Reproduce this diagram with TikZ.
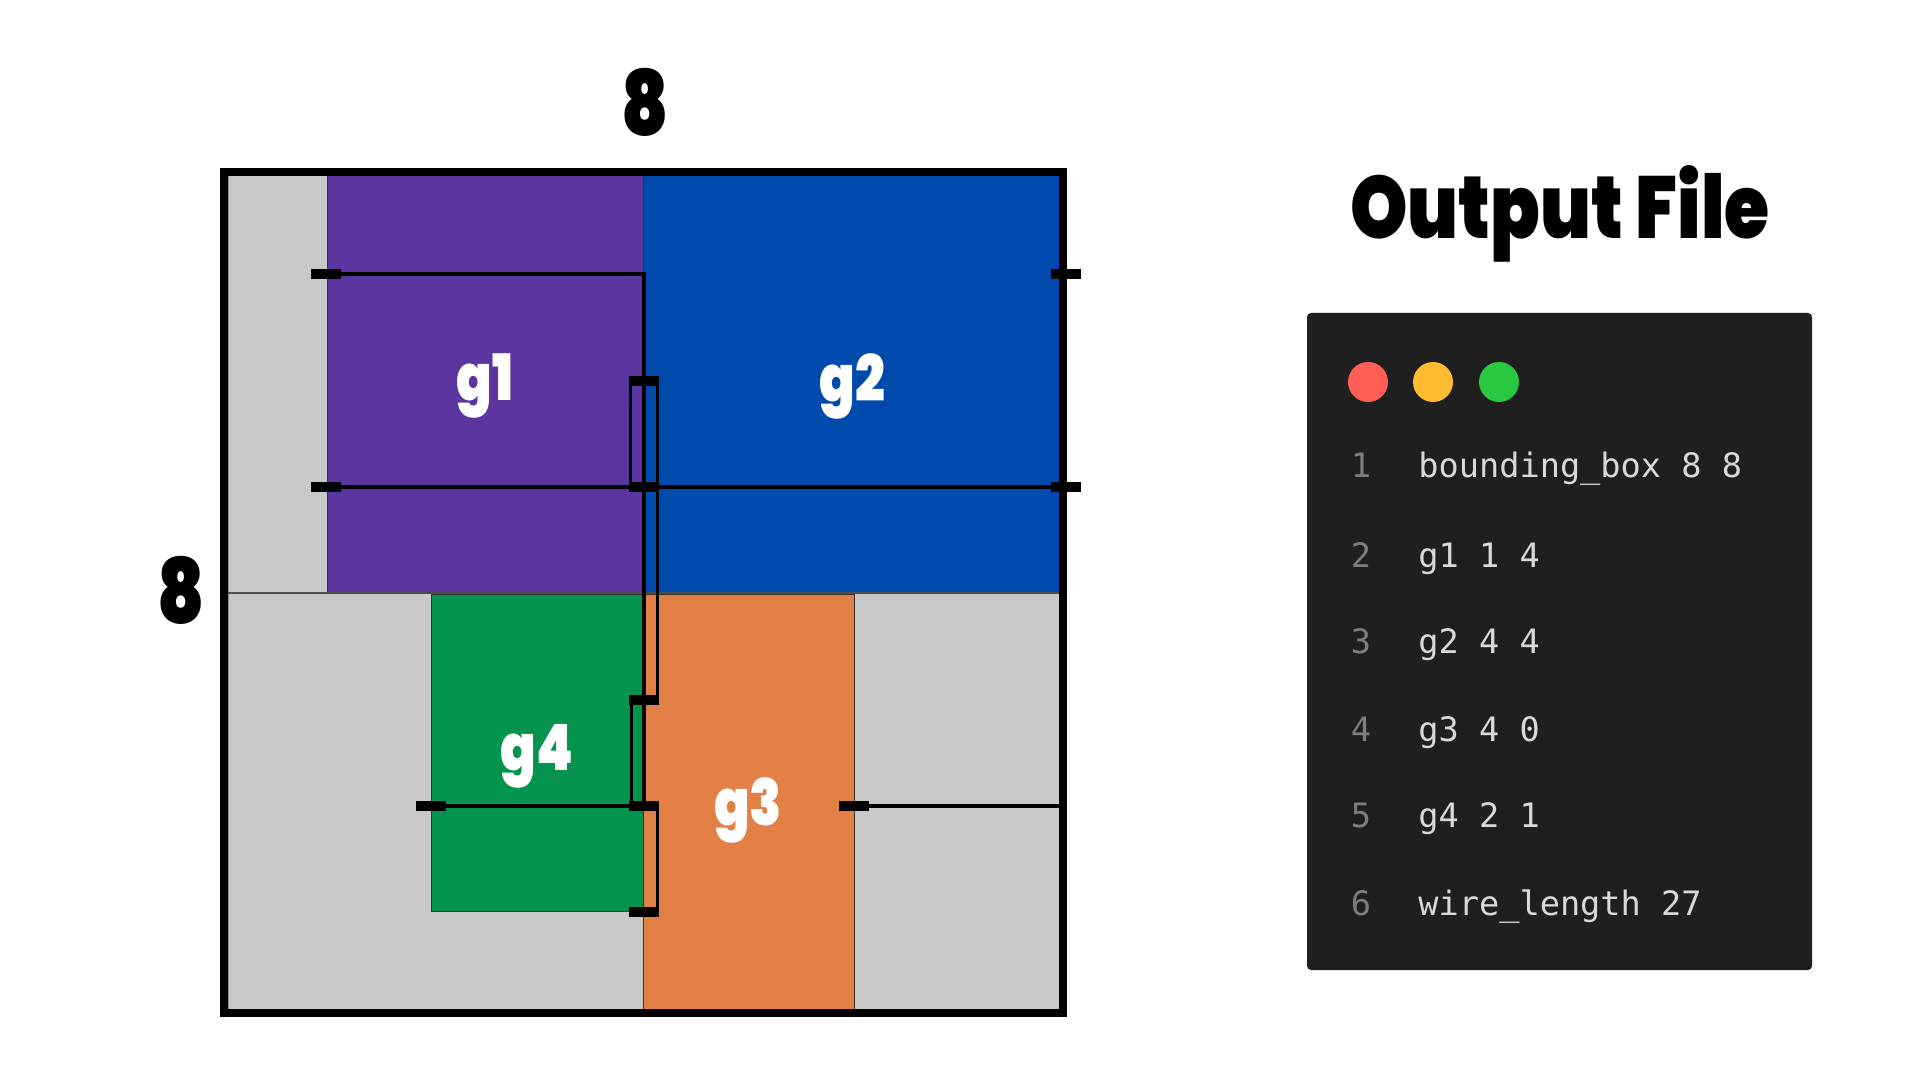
\documentclass[tikz,border=0pt]{standalone}
\usepackage{fontspec}
\newfontfamily\heavy{Poppins Black}
\newfontfamily\codefont{DejaVu Sans Mono}
\definecolor{gpurple}{HTML}{5B35A0}
\definecolor{gblue}{HTML}{004AAD}
\definecolor{ggreen}{HTML}{049450}
\definecolor{gorange}{HTML}{E28046}
\definecolor{ggray}{HTML}{C8C8C8}
\definecolor{panelbg}{HTML}{1F1F1F}
\definecolor{codetxt}{HTML}{D9D9D9}
\definecolor{numtxt}{HTML}{7E7E7E}
\definecolor{dotred}{HTML}{FF5F57}
\definecolor{dotyellow}{HTML}{FEBC2E}
\definecolor{dotgreen}{HTML}{28C840}
\begin{document}
\begin{tikzpicture}[x=0.5pt,y=-0.5pt,
  pinbox/.style={fill=black, draw=none, inner sep=0pt, minimum width=15pt, minimum height=4.5pt},
  wire/.style={line width=1.8pt, black},
  emptycell/.style={fill=ggray, draw=black!45, line width=0.5pt},
  blk/.style={draw=black!80, line width=0.5pt},
  blklabel/.style={text=white, font=\heavy\fontsize{32}{36}\selectfont, xscale=0.82, inner sep=0pt},
  dimlabel/.style={font=\heavy\fontsize{45}{50}\selectfont, xscale=0.8, inner sep=0pt},
  codeline/.style={font=\codefont\fontsize{16.8}{20}\selectfont, text=codetxt, anchor=base west, inner sep=0pt},
  numline/.style={font=\codefont\fontsize{16.8}{20}\selectfont, text=numtxt, anchor=base, inner sep=0pt},
  dot/.style={circle, minimum size=20pt, inner sep=0pt, draw=none}]
\useasboundingbox[fill=white] (0,0) rectangle (1920,1080);

% empty cells
\draw[emptycell] (228,176) rectangle (327,592);
\draw[emptycell] (228,593) rectangle (643,1010);
\draw[emptycell] (854,593) rectangle (1060,1010);
% blocks
\draw[blk, fill=gpurple] (327,176) rectangle (643,592);
\draw[blk, fill=gblue] (643,176) rectangle (1060,592);
\draw[blk, fill=gorange] (643,594) rectangle (854,1010);
\draw[blk, fill=ggreen] (431,594) rectangle (643,911);
\draw[black!70, line width=1pt] (228,592.5) -- (1060,592.5);

% block labels
\node[blklabel] (lg1) at (485,386) {g1};
\node[blklabel] (lg2) at (852,386) {g2};
\node[blklabel] (lg4) at (537,756) {g4};
\node[blklabel] (lg3) at (748,810) {g3};

% pins
\node[pinbox] (p1) at (326,274) {};
\node[pinbox] (p2) at (326,487) {};
\node[pinbox] (p3) at (644,381) {};
\node[pinbox] (p4) at (644,487) {};
\node[pinbox] (p5) at (1066,274) {};
\node[pinbox] (p6) at (1066,487) {};
\node[pinbox] (p7) at (431,806) {};
\node[pinbox] (p8) at (644,700) {};
\node[pinbox] (p9) at (644,806) {};
\node[pinbox] (p10) at (644,912) {};
\node[pinbox] (p11) at (854,806) {};
\coordinate (edge3) at (1060,806);

% wires
\draw[wire] (p1.center) -| (p9.center);
\draw[wire] (p2.center) -- (p6.center);
\draw[wire] ([xshift=1pt]p3.west) -- ([xshift=1pt]p4.west);
\draw[wire] ([xshift=-1pt]p3.east) -- ([xshift=-1pt]p8.east);
\draw[wire] ([xshift=1.5pt]p8.west) -- ([xshift=1.5pt]p9.west);
\draw[wire] ([xshift=-1pt]p9.east) -- ([xshift=-1pt]p10.east);
\draw[wire] (p7.center) -- (p9.center);
\draw[wire] (p11.center) -- (edge3);

% redraw pins on top
\foreach \p in {p1,p2,p3,p4,p5,p6,p7,p8,p9,p10,p11}
  \fill[black] (\p.south west) rectangle (\p.north east);

% frame
\draw[line width=4pt, black] (224,172) rectangle (1063,1013);

% dimension labels
\node[dimlabel] (dimtop) at (645,102) {8};
\node[dimlabel] (dimleft) at (181,590) {8};

% title
\node[font=\heavy\fontsize{44}{50}\selectfont, xscale=0.83, anchor=base, inner sep=0pt] (title) at (1560,239) {Output File};

% code panel
\fill[panelbg, rounded corners=2pt] (1307,313) rectangle (1812,970);
\node[dot, fill=dotred] (dr) at (1368,382) {};
\node[dot, fill=dotyellow] (dy) at (1433,382) {};
\node[dot, fill=dotgreen] (dg) at (1499,382) {};

\node[numline] (n1) at (1361,477) {1};
\node[numline] (n2) at (1361,567) {2};
\node[numline] (n3) at (1361,653) {3};
\node[numline] (n4) at (1361,741) {4};
\node[numline] (n5) at (1361,827) {5};
\node[numline] (n6) at (1361,915) {6};
\node[codeline] (c1) at (1418,477) {bounding\char"5F box 8 8};
\node[codeline] (c2) at (1418,567) {g1 1 4};
\node[codeline] (c3) at (1418,653) {g2 4 4};
\node[codeline] (c4) at (1418,741) {g3 4 0};
\node[codeline] (c5) at (1418,827) {g4 2 1};
\node[codeline] (c6) at (1418,915) {wire\char"5F length 27};
\end{tikzpicture}
\end{document}
